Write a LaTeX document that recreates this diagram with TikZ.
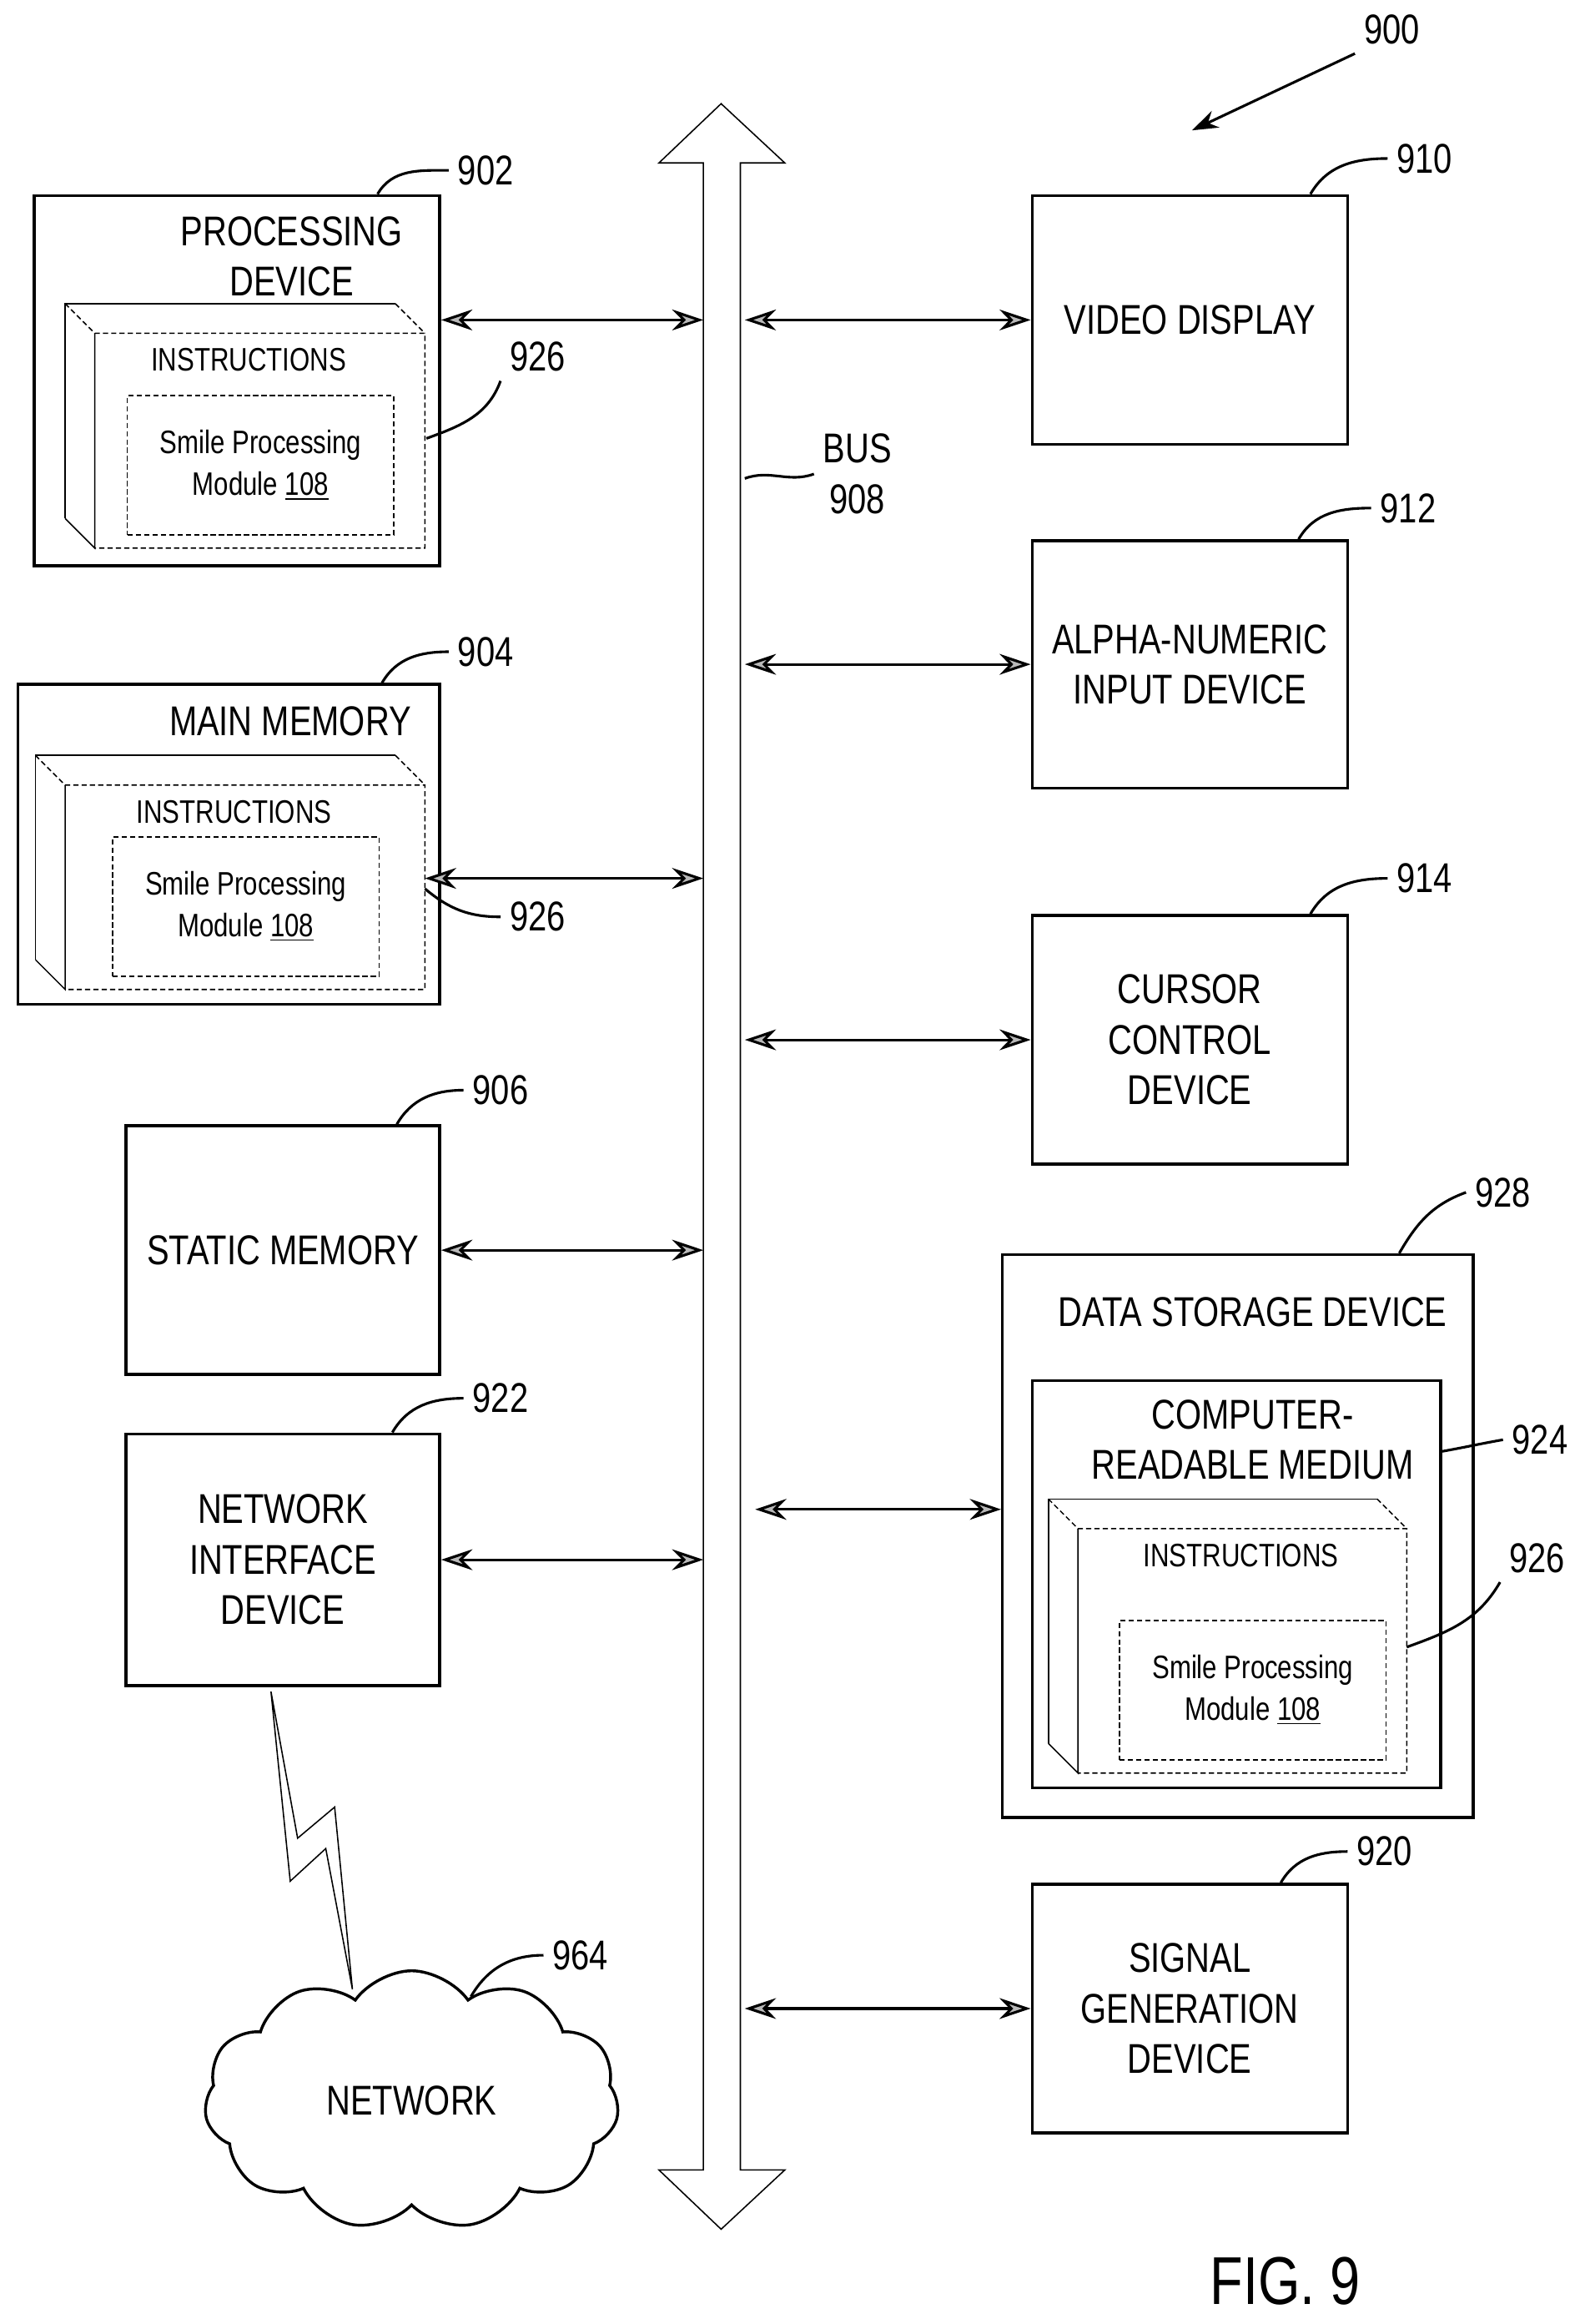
\documentclass[tikz,border=0pt]{standalone}
\usepackage{fontspec}
\setmainfont{Liberation Sans}[FakeStretch=0.8]
\usetikzlibrary{arrows.meta, shapes.symbols, calc}

\tikzset{
  box/.style={draw, line width=1.1pt, inner sep=0pt},
  big/.style={font=\fontsize{16}{19.4}\selectfont, align=center},
  small/.style={font=\fontsize{12.5}{16}\selectfont, align=center},
  refno/.style={font=\fontsize{16}{19}\selectfont},
  lead/.style={line width=1pt},
  biarrow/.style={{Stealth[length=12pt,width=8pt,fill=gray!55]}-{Stealth[length=12pt,width=8pt,fill=gray!55]}, line width=1pt},
  thinln/.style={line width=0.5pt},
  dashln/.style={line width=0.5pt, dash pattern=on 2pt off 1.2pt}
}

% instruction block drawn as a cube with a dotted module box
\newcommand{\instrcube}[7]{%
  % #1,#2 back top-left; #3,#4 front bottom-right; #5 name prefix; #6,#7 text x
  \draw[thinln] (#1,#4-20) -- (#1,#2) -- (#3-20,#2);
  \draw[thinln] (#1,#4-20) -- (#1+20,#4) -- (#1+20,#2+20);
  \draw[dashln] (#1,#2) -- (#1+20,#2+20) -- (#3,#2+20) -- (#3,#4) -- (#1+20,#4);
  \draw[dashln] (#3-20,#2) -- (#3,#2+20);
  \node[small] (#5i) at (#6,#2+38) {INSTRUCTIONS};
  \node[draw, dashln, minimum width=3.6cm, minimum height=1.88cm, small] (#5m) at (#7,#4-56)
    {Smile Processing\\Module \underline{108}};
}

\begin{document}
\begin{tikzpicture}[x=0.02cm, y=-0.02cm]
  \useasboundingbox (0,0) rectangle (1070,1569);

  % bus
  \draw[thinln] (475,110) -- (445,110) -- (487,70) -- (530,110) -- (500,110) -- (500,1465)
    -- (530,1465) -- (487,1505) -- (445,1465) -- (475,1465) -- cycle;
  \coordinate (busL) at (475,0);
  \coordinate (busR) at (503,0);
  \node[big] (bus) at (579,320) {BUS\\908};
  \draw[lead] (503,323) to[out=20,in=200] (bus.west);

  % figure number
  \node[refno] (n900) at (940,20) {900};
  \coordinate (tip900) at (805,88);
  \draw[lead, -{Stealth[length=10pt,width=7pt]}] (n900.south west) -- (tip900);

  % left column
  \node[box, minimum width=5.48cm, minimum height=5cm] (pd) at (160,257) {};
  \node[big] at (197,173) {PROCESSING\\DEVICE};
  \instrcube{44}{205}{287}{370}{pd}{168}{176}
  \node[box, minimum width=5.7cm, minimum height=4.32cm] (mm) at (154.5,570) {};
  \node[big] at (196,487) {MAIN MEMORY};
  \instrcube{24}{510}{287}{668}{mm}{158}{166}
  \node[box, big, minimum width=4.24cm, minimum height=3.36cm] (sm) at (191,844) {STATIC MEMORY};
  \node[box, big, minimum width=4.24cm, minimum height=3.4cm] (ni) at (191,1053) {NETWORK\\INTERFACE\\DEVICE};
  \node[cloud, draw, line width=1.1pt, cloud puffs=11, cloud puff arc=110, aspect=1.6,
        minimum width=5.6cm, minimum height=3.5cm, big] (net) at (278,1418) {NETWORK};

  % right column
  \node[box, big, minimum width=4.26cm, minimum height=3.36cm] (vd) at (803.5,216) {VIDEO DISPLAY};
  \node[box, big, minimum width=4.26cm, minimum height=3.34cm] (an) at (803.5,448.5) {ALPHA-NUMERIC\\INPUT DEVICE};
  \node[box, big, minimum width=4.26cm, minimum height=3.36cm] (cc) at (803.5,702) {CURSOR\\CONTROL\\DEVICE};
  \node[box, minimum width=6.36cm, minimum height=7.6cm] (ds) at (836,1037) {};
  \node[big] at (846,886) {DATA STORAGE DEVICE};
  \node[box, minimum width=5.52cm, minimum height=5.5cm] (crm) at (835,1069.5) {};
  \node[big] at (846,972) {COMPUTER-\\READABLE MEDIUM};
  \instrcube{708}{1012}{950}{1197}{ds}{838}{846}
  \node[box, big, minimum width=4.26cm, minimum height=3.36cm] (sg) at (803.5,1356) {SIGNAL\\GENERATION\\DEVICE};

  % bus connections
  \draw[biarrow] (pd.east |- vd.west) -- (busL |- vd.west);
  \draw[biarrow] (busR |- vd.west) -- (vd.west);
  \draw[biarrow] (busR |- an.west) -- (an.west);
  \draw[biarrow] (287,593) -- (busL |- 0,593);
  \draw[biarrow] (busR |- cc.west) -- (cc.west);
  \draw[biarrow] (sm.east) -- (busL |- sm.east);
  \draw[biarrow] (510,1019) -- (ds.west |- 0,1019);
  \draw[biarrow] (ni.east) -- (busL |- ni.east);
  \draw[biarrow] (busR |- sg.west) -- (sg.west);

  % wireless link
  \draw[thinln] (183,1142) -- (201,1241) -- (226,1220) -- (238,1343) -- (220,1248) -- (196,1270) -- cycle;

  % reference numerals
  \node[refno] (n902) at (328,115) {902};
  \draw[lead] ([xshift=1.9cm]pd.north) to[out=60,in=180] (n902.west);
  \node[refno] (n904) at (328,440) {904};
  \draw[lead] ([xshift=2.07cm]mm.north) to[out=60,in=180] (n904.west);
  \node[refno] (n906) at (338,736) {906};
  \draw[lead] ([xshift=1.54cm]sm.north) to[out=60,in=180] (n906.west);
  \node[refno] (n922) at (338,944) {922};
  \draw[lead] ([xshift=1.48cm]ni.north) to[out=60,in=180] (n922.west);
  \node[refno] (n964) at (392,1320) {964};
  \draw[lead] (318,1348) to[out=60,in=180] (n964.west);
  \node[refno] (n910) at (962,107) {910};
  \draw[lead] ([xshift=1.63cm]vd.north) to[out=60,in=180] (n910.west);
  \node[refno] (n912) at (951,343) {912};
  \draw[lead] ([xshift=1.47cm]an.north) to[out=60,in=180] (n912.west);
  \node[refno] (n914) at (962,593) {914};
  \draw[lead] ([xshift=1.63cm]cc.north) to[out=60,in=180] (n914.west);
  \node[refno] (n928) at (1015,805) {928};
  \draw[lead] ([xshift=2.18cm]ds.north) to[out=60,in=200] (n928.west);
  \node[refno] (n924) at (1040,972) {924};
  \draw[lead] (973,980) to[out=10,in=190] (n924.west);
  \node[refno] (n920) at (935,1250) {920};
  \draw[lead] ([xshift=1.23cm]sg.north) to[out=60,in=180] (n920.west);
  \node[refno] (n926a) at (363,241) {926};
  \draw[lead] (288,296) to[out=20,in=250] (n926a.south west);
  \node[refno] (n926b) at (363,619) {926};
  \draw[lead] (287,600) to[out=-40,in=180] (n926b.west);
  \node[refno] (n926c) at (1038,1052) {926};
  \draw[lead] (950,1112) to[out=20,in=240] (n926c.south west);

  \node[font=\fontsize{26}{30}\selectfont] (fig) at (868,1540) {FIG. 9};
\end{tikzpicture}
\end{document}
